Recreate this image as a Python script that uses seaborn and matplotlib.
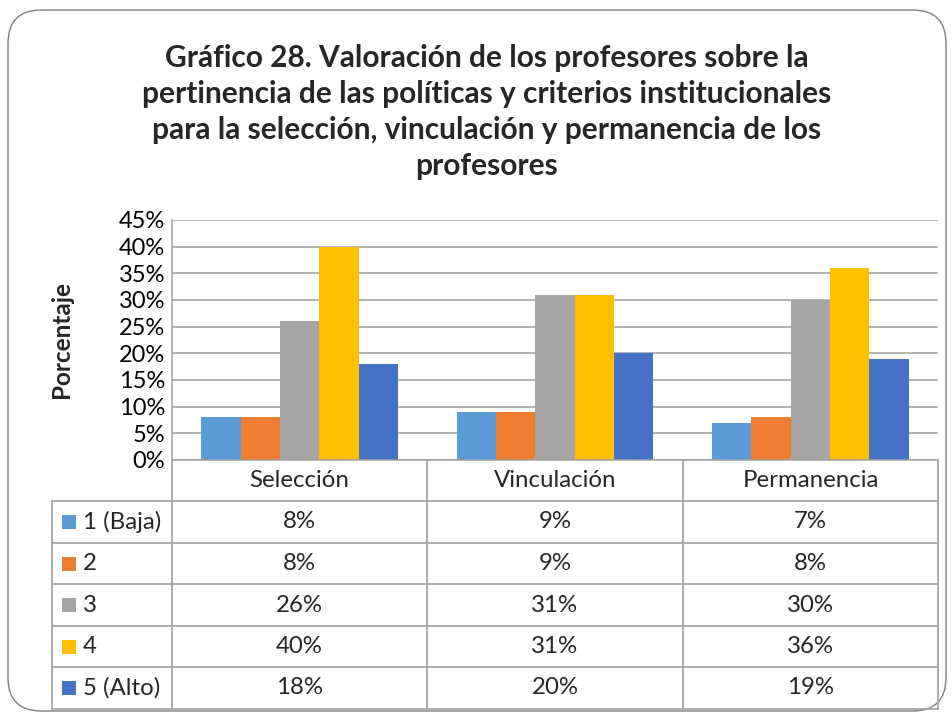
import matplotlib
matplotlib.use("Agg")
import matplotlib.pyplot as plt
import seaborn as sns
import pandas as pd
from matplotlib.lines import Line2D
from matplotlib.patches import FancyBboxPatch, Rectangle
from matplotlib.ticker import FuncFormatter

categories = ["Selección", "Vinculación", "Permanencia"]
levels = ["1 (Baja)", "2", "3", "4", "5 (Alto)"]
v_1 = [8, 9, 7]
v_2 = [8, 9, 8]
v_3 = [26, 31, 30]
v_4 = [40, 31, 36]
v_5 = [18, 20, 19]
colors = ["#5B9BD5", "#ED7D31", "#A5A5A5", "#FFC000", "#4472C4"]
title = ("Gráfico 28. Valoración de los profesores sobre la\n"
         "pertinencia de las políticas y criterios institucionales\n"
         "para la selección, vinculación y permanencia de los\n"
         "profesores")
ylabel = "Porcentaje"
yticks = [0, 5, 10, 15, 20, 25, 30, 35, 40, 45]

series = [v_1, v_2, v_3, v_4, v_5]
rows = []
for lev, vals in zip(levels, series):
    for cat, v in zip(categories, vals):
        rows.append({"Categoria": cat, "Nivel": lev, "Valor": v})
df = pd.DataFrame(rows)

sns.set_theme(style="white")
plt.rcParams["font.family"] = ["Lato", "DejaVu Sans"]

W, H = 953, 715
fig = plt.figure(figsize=(W / 100, H / 100), dpi=100)
fig.patch.set_facecolor("white")

def fx(x):
    return x / W

def fy(y):
    return 1 - y / H

L, R, T, B = 172, 938, 220, 460
ax = fig.add_axes([fx(L), fy(B), fx(R) - fx(L), (B - T) / H])

sns.barplot(data=df, x="Categoria", y="Valor", hue="Nivel", order=categories,
            hue_order=levels, palette=colors, width=0.77, saturation=1,
            linewidth=0, edgecolor="none", ax=ax, legend=False)
ax.set_xlim(-0.5, 2.5)
ax.set_ylim(0, 45)
ax.set_yticks(yticks)
ax.yaxis.set_major_formatter(FuncFormatter(lambda v, p: f"{int(round(v))}%"))
ax.grid(axis="y", color="#A0A0A0", linewidth=1.1)
ax.set_axisbelow(True)
for s in ["top", "right"]:
    ax.spines[s].set_visible(False)
for s in ["left", "bottom"]:
    ax.spines[s].set_color("#A0A0A0")
    ax.spines[s].set_linewidth(1.1)
ax.set_xticks([])
ax.set_xlabel("")
ax.set_ylabel("")
ax.tick_params(axis="y", length=0, labelsize=17, pad=5, colors="black")

fig.text(fx(62), fy(340), ylabel, rotation=90, ha="center", va="center",
         fontsize=17.5, fontweight="bold")

fig.text(fx(487), fy(112), title, ha="center", va="center", fontsize=21.5,
         fontweight="bold", linespacing=1.34)

# data table
lc = "#A6A6A6"
lw = 1.3
col_x = [L, 427, 683, R]
row_y = [B, 501, 543, 584, 626, 667, 709]
tl = 52

def hline(x0, x1, y):
    fig.add_artist(Line2D([fx(x0), fx(x1)], [fy(y), fy(y)], color=lc, lw=lw))

def vline(x, y0, y1):
    fig.add_artist(Line2D([fx(x), fx(x)], [fy(y0), fy(y1)], color=lc, lw=lw))

for y in row_y[1:]:
    hline(tl, R, y)
for x in col_x:
    vline(x, B, row_y[-1])
vline(tl, row_y[1], row_y[-1])

fs = 17.3
for j, cat in enumerate(categories):
    cx = (col_x[j] + col_x[j + 1]) / 2
    fig.text(fx(cx), fy((row_y[0] + row_y[1]) / 2), cat, ha="center",
             va="center", fontsize=fs)
for i, (lev, vals) in enumerate(zip(levels, series)):
    cy = (row_y[i + 1] + row_y[i + 2]) / 2
    fig.add_artist(Rectangle((fx(62), fy(cy + 7)), 14 / W, 14 / H,
                             transform=fig.transFigure, color=colors[i], lw=0))
    fig.text(fx(83), fy(cy), lev, ha="left", va="center", fontsize=fs)
    for j, v in enumerate(vals):
        cx = (col_x[j] + col_x[j + 1]) / 2
        fig.text(fx(cx), fy(cy), f"{v}%", ha="center", va="center", fontsize=fs)

# rounded chart border
fig.add_artist(FancyBboxPatch((fx(8), fy(711)), fx(946) - fx(8), fy(10) - fy(711),
                              boxstyle="round,pad=0,rounding_size=0.035",
                              transform=fig.transFigure, fill=False,
                              edgecolor="#7F7F7F", lw=1.0,
                              mutation_aspect=W / H))

fig.savefig("out.png", dpi=100, facecolor="white")
